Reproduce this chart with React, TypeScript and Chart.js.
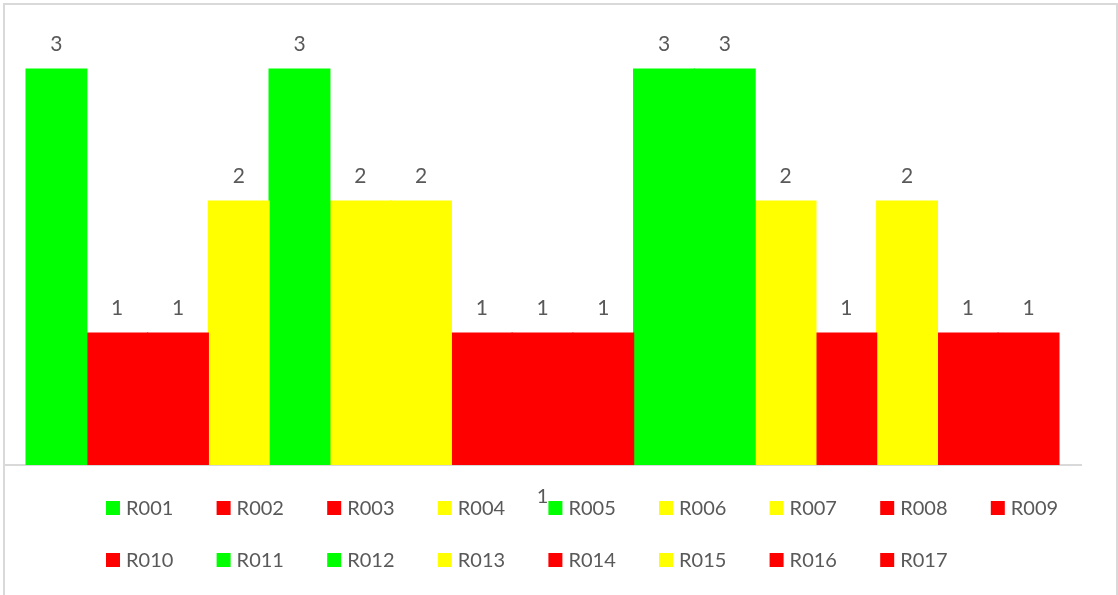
import React, { useEffect, useRef } from "react";
import { Chart, registerables } from "chart.js";

Chart.register(...registerables);

const categories = ["1"];
const seriesNames = [
  "R001", "R002", "R003", "R004", "R005", "R006", "R007", "R008", "R009",
  "R010", "R011", "R012", "R013", "R014", "R015", "R016", "R017",
];
const seriesValues = [3, 1, 1, 2, 3, 2, 2, 1, 1, 1, 3, 3, 2, 1, 2, 1, 1];
const seriesColors = [
  "#00FF00", "#FF0000", "#FF0000", "#FFFF00", "#00FF00", "#FFFF00", "#FFFF00", "#FF0000", "#FF0000",
  "#FF0000", "#00FF00", "#00FF00", "#FFFF00", "#FF0000", "#FFFF00", "#FF0000", "#FF0000",
];
const yMin = 0;
const yMax = 3.5;

const FONT = "Lato, 'Noto Sans', sans-serif";
const TEXT_COLOR = "#595959";

const dataLabelPlugin = {
  id: "dataLabels",
  afterDatasetsDraw(chart: any) {
    const ctx = chart.ctx;
    ctx.save();
    ctx.fillStyle = TEXT_COLOR;
    ctx.font = `21px ${FONT}`;
    ctx.textAlign = "center";
    ctx.textBaseline = "middle";
    chart.data.datasets.forEach((ds: any, i: number) => {
      const meta = chart.getDatasetMeta(i);
      meta.data.forEach((bar: any, j: number) => {
        ctx.fillText(String(ds.data[j]), bar.x, bar.y - 25);
      });
    });
    ctx.restore();
  },
};

const legendPlugin = {
  id: "gridLegend",
  afterDraw(chart: any) {
    const ctx = chart.ctx;
    ctx.save();
    ctx.font = `20px ${FONT}`;
    ctx.textBaseline = "middle";
    ctx.textAlign = "left";
    const perRow = 9;
    chart.data.datasets.forEach((ds: any, i: number) => {
      const row = Math.floor(i / perRow);
      const col = i % perRow;
      const bx = 106 + col * 110.6;
      const by = 501 + row * 52;
      ctx.fillStyle = ds.backgroundColor;
      ctx.fillRect(bx, by, 14, 14);
      ctx.fillStyle = TEXT_COLOR;
      ctx.fillText(ds.label, bx + 20, by + 7.5);
    });
    ctx.restore();
  },
};

const borderPlugin = {
  id: "outerBorder",
  afterDraw(chart: any) {
    const ctx = chart.ctx;
    ctx.save();
    ctx.strokeStyle = "#D9D9D9";
    ctx.lineWidth = 2;
    ctx.strokeRect(4, 4, 1113, 640);
    ctx.restore();
  },
};

export default function App() {
  const canvasRef = useRef<HTMLCanvasElement | null>(null);

  useEffect(() => {
    if (!canvasRef.current) return;
    const chart = new Chart(canvasRef.current, {
      type: "bar",
      data: {
        labels: categories,
        datasets: seriesNames.map((name, i) => ({
          label: name,
          data: [seriesValues[i]],
          backgroundColor: seriesColors[i],
          borderWidth: 0,
          inflateAmount: 0.6,
          barPercentage: 1,
          categoryPercentage: 0.959,
        })),
      },
      options: {
        animation: false,
        responsive: true,
        maintainAspectRatio: false,
        layout: { padding: { left: 4, right: 37, top: 3, bottom: 70 } },
        plugins: {
          legend: { display: false },
          tooltip: { enabled: false },
        },
        scales: {
          x: {
            grid: { display: false, drawTicks: false },
            border: { display: true, color: "#D9D9D9", width: 2 },
            ticks: {
              color: TEXT_COLOR,
              font: { family: FONT, size: 20 },
              padding: 20,
            },
            afterFit: (s: any) => {
              s.height = 60;
            },
          },
          y: {
            display: false,
            min: yMin,
            max: yMax,
          },
        },
      },
      plugins: [dataLabelPlugin, legendPlugin, borderPlugin],
    });
    return () => chart.destroy();
  }, []);

  return (
    <div style={{ position: "fixed", left: 0, top: 0, width: 1118, height: 595, background: "#fff" }}>
      <canvas ref={canvasRef} />
    </div>
  );
}
